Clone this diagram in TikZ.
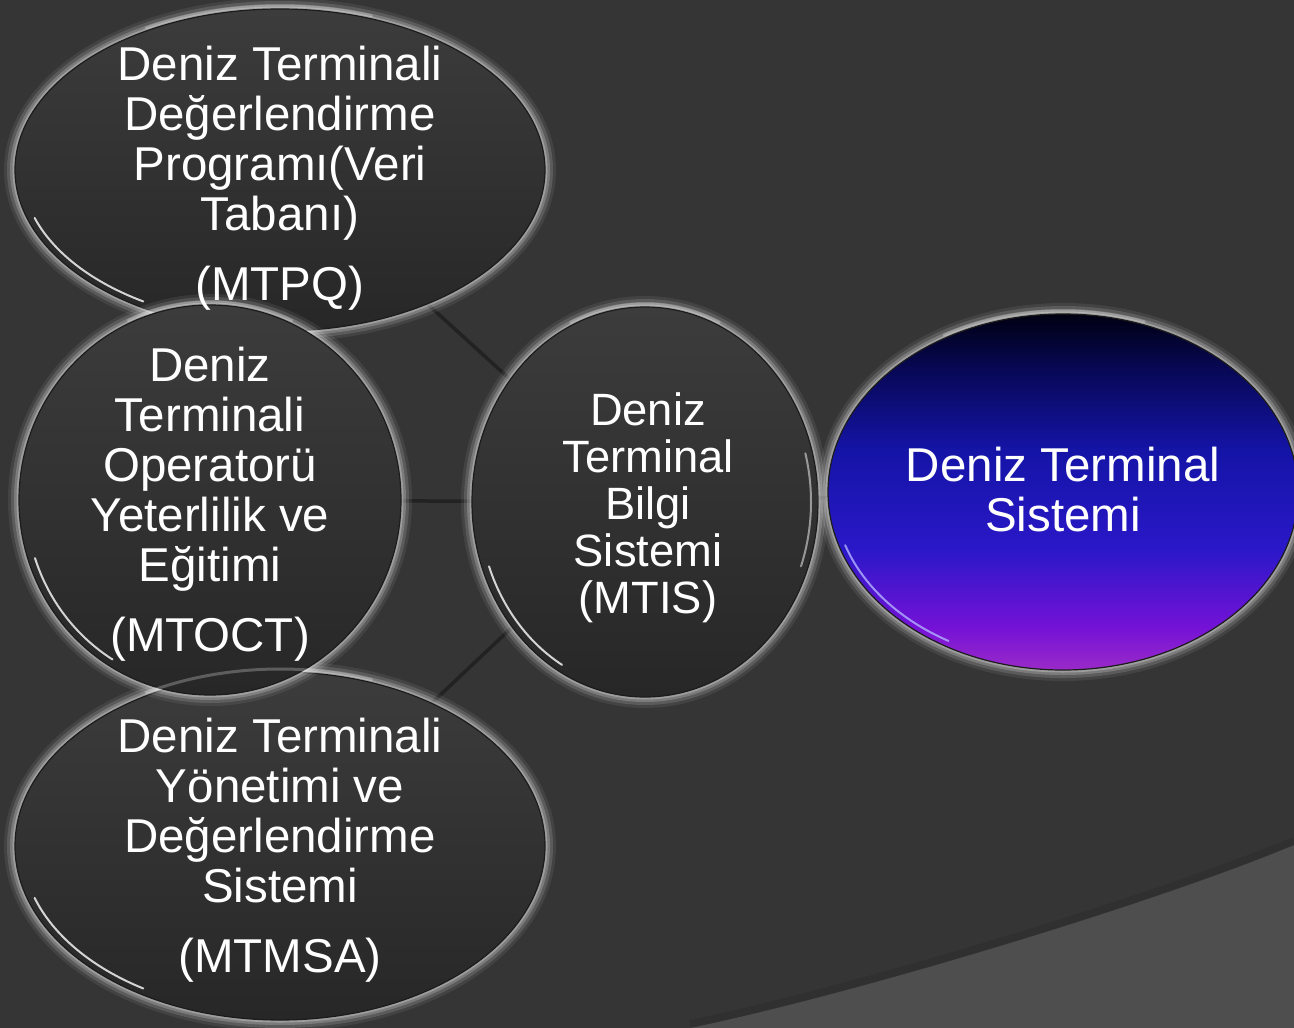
\documentclass[tikz,border=0pt]{standalone}
\usepackage{fontspec}
\setmainfont{Liberation Sans}
\usetikzlibrary{shapes.geometric}
\pgfdeclarelayer{back}
\pgfdeclarelayer{edges}
\pgfsetlayers{back,edges,main}
\definecolor{bgc}{HTML}{353535}
\definecolor{bgl}{HTML}{4E4E4E}
\definecolor{edgec}{HTML}{222222}
\definecolor{bubtop}{HTML}{3C3C3C}
\definecolor{bubbot}{HTML}{272727}
\definecolor{rimc}{HTML}{1C1C1C}
\definecolor{purp}{HTML}{9A2AC8}
\definecolor{purp2}{HTML}{7412D6}
\definecolor{blu1}{HTML}{2A18C8}
\definecolor{blu2}{HTML}{1414A6}
\definecolor{navy}{HTML}{080858}
\definecolor{blk}{HTML}{000012}
\pgfdeclareverticalshading{dtsshade}{100bp}{color(0bp)=(purp); color(25bp)=(purp); color(31bp)=(purp2); color(42bp)=(blu1); color(56bp)=(blu2); color(67bp)=(navy); color(75bp)=(blk); color(100bp)=(blk)}
\tikzset{
  halo/.style={
    preaction={draw=white, draw opacity=0.07, line width=22pt},
    preaction={draw=white, draw opacity=0.13, line width=16pt},
    preaction={draw=white, draw opacity=0.20, line width=10pt},
    preaction={draw=white, draw opacity=0.26, line width=5pt}},
  bubble/.style={ellipse, inner sep=0pt, halo, top color=bubtop, bottom color=bubbot,
    draw=rimc, line width=1.2pt},
  bluebubble/.style={ellipse, inner sep=0pt, halo, shading=dtsshade,
    draw=rimc, line width=1.2pt},
  txt/.style={text=white, align=center, inner sep=0pt, font=\fontsize{47.5}{50}\selectfont},
  txtsmall/.style={text=white, align=center, inner sep=0pt, font=\fontsize{45.3}{47}\selectfont},
  connector/.style={draw=edgec, line width=3.5pt},
  hl/.style={draw=white, line width=2pt, draw opacity=0.8, line cap=round},
  tophl/.style={draw=white, line width=3pt, draw opacity=0.25, line cap=round}
}
\begin{document}
\begin{tikzpicture}[x=1pt,y=-1pt]
\useasboundingbox (0,0) rectangle (1294,1028);
\begin{pgfonlayer}{back}
  \fill[bgc] (0,0) rectangle (1294,1028);
  \fill[bgl] (690,1028) .. controls (850,995) and (1150,905) .. (1294,845) -- (1294,1028) -- cycle;
  \draw[black, opacity=0.08, line width=8pt] (690,1024) .. controls (850,991) and (1150,901) .. (1294,841);
\end{pgfonlayer}

% shapes (draw order: top, bottom, middle-left, centre, right)
\node[bubble, minimum width=530pt, minimum height=322pt] (pq) at (280,170) {};
\node[bubble, minimum width=530pt, minimum height=348pt] (pm) at (280,846) {};
\node[bubble, minimum width=382pt, minimum height=390pt] (oc) at (210,500) {};
\node[bubble, minimum width=346pt, minimum height=390pt] (tis) at (645,502) {};
\node[bluebubble, minimum width=470pt, minimum height=356pt] (dts) at (1063,492) {};

% connectors
\begin{pgfonlayer}{edges}
  \draw[connector] (tis.center) -- (pq.center);
  \draw[connector] (tis.center) -- (oc.center);
  \draw[connector] (tis.center) -- (pm.center);
  \draw[connector] (tis.center) -- (dts.center);
\end{pgfonlayer}

% highlights
\draw[hl, shift={(pq.center)}] (198:258pt and 155pt) arc[start angle=198, end angle=238, x radius=258pt, y radius=155pt];
\draw[tophl, shift={(pq.center)}] (70:268pt and 164pt) arc[start angle=70, end angle=120, x radius=268pt, y radius=164pt];
\draw[hl, shift={(pm.center)}] (198:258pt and 168pt) arc[start angle=198, end angle=238, x radius=258pt, y radius=168pt];
\draw[tophl, shift={(pm.center)}] (70:268pt and 177pt) arc[start angle=70, end angle=120, x radius=268pt, y radius=177pt];
\draw[hl, shift={(oc.center)}] (198:184pt and 188pt) arc[start angle=198, end angle=238, x radius=184pt, y radius=188pt];
\draw[tophl, shift={(oc.center)}] (65:194pt and 198pt) arc[start angle=65, end angle=115, x radius=194pt, y radius=198pt];
\draw[hl, shift={(tis.center)}] (200:166pt and 188pt) arc[start angle=200, end angle=240, x radius=166pt, y radius=188pt];
\draw[hl, draw opacity=0.5, shift={(tis.center)}] (-20:166pt and 188pt) arc[start angle=-20, end angle=15, x radius=166pt, y radius=188pt];
\draw[tophl, shift={(tis.center)}] (65:176pt and 198pt) arc[start angle=65, end angle=115, x radius=176pt, y radius=198pt];
\draw[hl, draw=blue!30!white, shift={(dts.center)}] (198:229pt and 172pt) arc[start angle=198, end angle=240, x radius=229pt, y radius=172pt];
\draw[tophl, shift={(dts.center)}] (70:238pt and 181pt) arc[start angle=70, end angle=120, x radius=238pt, y radius=181pt];

% texts
\node[txt] (pqt) at (280,178) {Deniz Terminali\\Değerlendirme\\Programı(Veri\\Tabanı)\\[20pt](MTPQ)};
\node[txt] (oct) at (210,504) {Deniz\\Terminali\\Operatorü\\Yeterlilik ve\\Eğitimi\\[20pt](MTOCT)};
\node[txt] (pmt) at (280,850) {Deniz Terminali\\Yönetimi ve\\Değerlendirme\\Sistemi\\[20pt](MTMSA)};
\node[txtsmall] (tist) at (648,508) {Deniz\\Terminal\\Bilgi\\Sistemi\\(MTIS)};
\node[txt] (dtst) at (1063,490) {Deniz Terminal\\Sistemi};
\end{tikzpicture}
\end{document}
